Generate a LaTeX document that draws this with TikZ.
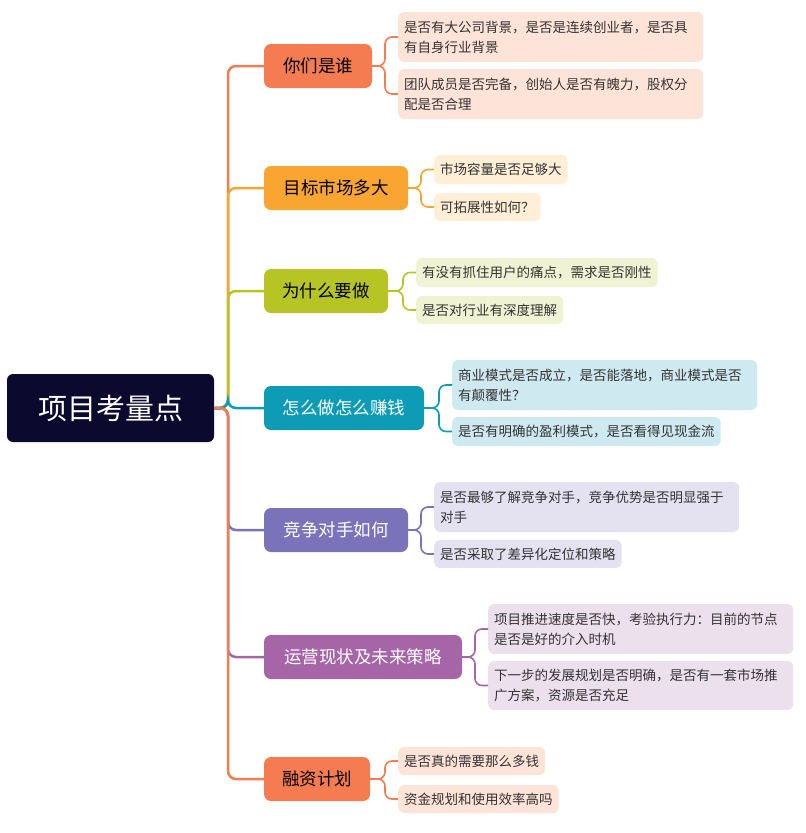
\documentclass[tikz,border=0pt]{standalone}
\usepackage{fontspec}
\setmainfont{Noto Sans CJK SC}
\begin{document}
\begin{tikzpicture}[x=1pt,y=-1pt,
 child/.style={rounded corners=7pt,inner sep=0pt,minimum height=44pt,font=\fontsize{17.5}{20}\selectfont},
 leaf/.style={rounded corners=6pt,inner xsep=6pt,inner ysep=0pt,align=left,anchor=west,font=\fontsize{13.5}{20}\selectfont,text=black!80},
 trunk/.style={line width=2.5pt,rounded corners=8pt},
 lk/.style={line width=1.6pt,rounded corners=7pt}]
\definecolor{c1}{HTML}{F47C50}\definecolor{c2}{HTML}{F9A531}\definecolor{c3}{HTML}{B6C424}
\definecolor{c4}{HTML}{0E9BB5}\definecolor{c5}{HTML}{7B73BA}\definecolor{c6}{HTML}{A565A6}
\definecolor{l1}{HTML}{FEE3D8}\definecolor{l2}{HTML}{FEEFD6}\definecolor{l3}{HTML}{F0F3D3}
\definecolor{l4}{HTML}{CFE9F0}\definecolor{l5}{HTML}{E4E2F1}\definecolor{l6}{HTML}{EDE0ED}
\definecolor{rootc}{HTML}{0B0A2E}
\useasboundingbox (0,0) rectangle (806,833);
\node[fill=rootc,rounded corners=6pt,minimum width=207pt,minimum height=68pt,text=white,font=\fontsize{29}{32}\selectfont] (root) at (110.5,408) {项目考量点};
\node[child,fill=c1,minimum width=108pt] (a1) at (318,66) {你们是谁};
\node[child,fill=c2,minimum width=144pt] (a2) at (336,188) {目标市场多大};
\node[child,fill=c3,minimum width=124pt] (a3) at (326,291) {为什么要做};
\node[child,fill=c4,minimum width=160pt,text=white] (a4) at (344,408) {怎么做怎么赚钱};
\node[child,fill=c5,minimum width=144pt,text=white] (a5) at (336,530) {竞争对手如何};
\node[child,fill=c6,minimum width=198pt,text=white] (a6) at (363,657) {运营现状及未来策略};
\node[child,fill=c1,minimum width=106pt] (a7) at (317,779) {融资计划};
\coordinate (j) at (228,408);
\foreach \n/\c in {a1/c1,a2/c2,a3/c3,a4/c4,a5/c5,a6/c6,a7/c1}
  \draw[trunk,\c] (root.east) -- (j) |- (\n.west);
\node[leaf,fill=l1,text width=293pt,minimum height=50pt] (b1) at (398,37) {是否有大公司背景，是否是连续创业者，是否具\\有自身行业背景};
\node[leaf,fill=l1,text width=293pt,minimum height=50pt] (b2) at (398,94) {团队成员是否完备，创始人是否有魄力，股权分\\配是否合理};
\node[leaf,fill=l2,minimum height=29pt] (b3) at (434,169.5) {市场容量是否足够大};
\node[leaf,fill=l2,minimum height=28pt] (b4) at (434,207) {可拓展性如何？};
\node[leaf,fill=l3,minimum height=29pt] (b5) at (416,272.5) {有没有抓住用户的痛点，需求是否刚性};
\node[leaf,fill=l3,minimum height=28pt] (b6) at (416,310) {是否对行业有深度理解};
\node[leaf,fill=l4,text width=293pt,minimum height=50pt] (b7) at (452,385) {商业模式是否成立，是否能落地，商业模式是否\\有颠覆性？};
\node[leaf,fill=l4,minimum height=29pt] (b8) at (452,431.5) {是否有明确的盈利模式，是否看得见现金流};
\node[leaf,fill=l5,text width=293pt,minimum height=50pt] (b9) at (434,507) {是否最够了解竞争对手，竞争优势是否明显强于\\对手};
\node[leaf,fill=l5,minimum height=28pt] (b10) at (434,554) {是否采取了差异化定位和策略};
\node[leaf,fill=l6,text width=293pt,minimum height=50pt] (b11) at (488,629) {项目推进速度是否快，考验执行力：目前的节点\\是否是好的介入时机};
\node[leaf,fill=l6,text width=293pt,minimum height=49pt] (b12) at (488,685.5) {下一步的发展规划是否明确，是否有一套市场推\\广方案，资源是否充足};
\node[leaf,fill=l1,minimum height=28pt] (b13) at (398,761) {是否真的需要那么多钱};
\node[leaf,fill=l1,minimum height=28pt] (b14) at (398,799) {资金规划和使用效率高吗};
\foreach \p/\x/\ba/\bb/\c in {a1/385/b1/b2/c1,a2/421/b3/b4/c2,a3/403/b5/b6/c3,a4/439/b7/b8/c4,a5/421/b9/b10/c5,a6/475/b11/b12/c6,a7/385/b13/b14/c1}{
  \draw[lk,\c] (\p.east) -- (\x,0 |- \p.east) |- (\ba.west);
  \draw[lk,\c] (\p.east) -- (\x,0 |- \p.east) |- (\bb.west);
}
\end{tikzpicture}
\end{document}
